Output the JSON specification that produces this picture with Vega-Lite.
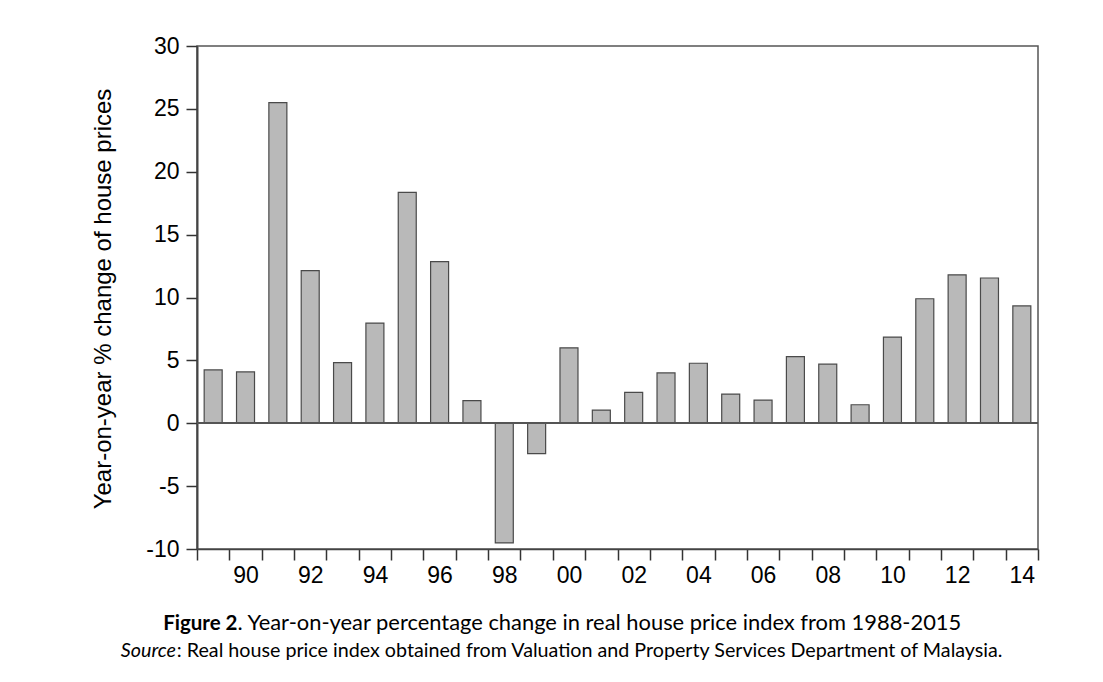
{
  "$schema": "https://vega.github.io/schema/vega-lite/v6.json",
  "width": 841,
  "height": 503,
  "autosize": {"type": "none"},
  "padding": {"left": 197, "top": 46, "right": 65, "bottom": 133},
  "background": "white",
  "config": {
    "view": {"stroke": "#555555", "strokeWidth": 1.5},
    "axis": {"grid": false}
  },
  "title": {
    "text": "Source",
    "orient": "top",
    "frame": "group",
    "anchor": "start",
    "align": "right",
    "baseline": "alphabetic",
    "dx": -21,
    "dy": 642,
    "offset": 0,
    "font": "Lato",
    "fontSize": 19.7,
    "fontStyle": "italic",
    "fontWeight": "normal",
    "color": "black"
  },
  "data": {
    "values": [
      {"year": 1989, "value": 4.24},
      {"year": 1990, "value": 4.08},
      {"year": 1991, "value": 25.5},
      {"year": 1992, "value": 12.13},
      {"year": 1993, "value": 4.82},
      {"year": 1994, "value": 7.97},
      {"year": 1995, "value": 18.36},
      {"year": 1996, "value": 12.85},
      {"year": 1997, "value": 1.8},
      {"year": 1998, "value": -9.52},
      {"year": 1999, "value": -2.42},
      {"year": 2000, "value": 6.0},
      {"year": 2001, "value": 1.05},
      {"year": 2002, "value": 2.45},
      {"year": 2003, "value": 4.0},
      {"year": 2004, "value": 4.77},
      {"year": 2005, "value": 2.32},
      {"year": 2006, "value": 1.84},
      {"year": 2007, "value": 5.3},
      {"year": 2008, "value": 4.7},
      {"year": 2009, "value": 1.47},
      {"year": 2010, "value": 6.85},
      {"year": 2011, "value": 9.9},
      {"year": 2012, "value": 11.8},
      {"year": 2013, "value": 11.55},
      {"year": 2014, "value": 9.33}
    ]
  },
  "resolve": {"axis": {"x": "independent", "y": "independent"}},
  "layer": [
    {
      "mark": {"type": "bar", "width": 18, "fill": "#b9b9b9", "stroke": "#4a4a4a", "strokeWidth": 1.2},
      "encoding": {
        "x": {
          "field": "year",
          "type": "quantitative",
          "scale": {"domain": [1988.5, 2014.5], "nice": false, "zero": false, "padding": 0},
          "axis": {
            "orient": "bottom",
            "values": [1988.5, 1989.5, 1990.5, 1991.5, 1992.5, 1993.5, 1994.5, 1995.5, 1996.5, 1997.5, 1998.5, 1999.5, 2000.5, 2001.5, 2002.5, 2003.5, 2004.5, 2005.5, 2006.5, 2007.5, 2008.5, 2009.5, 2010.5, 2011.5, 2012.5, 2013.5, 2014.5],
            "labelExpr": "(datum.value + 0.5) % 2 == 0 ? substring(toString(datum.value + 0.5), 2) : ''",
            "labelOffset": 16.2,
            "labelFlush": false,
            "labelOverlap": false,
            "labelBound": false,
            "labelFont": "Liberation Sans",
            "labelFontSize": 23,
            "labelColor": "black",
            "labelPadding": 4,
            "tickSize": 11,
            "tickColor": "#333333",
            "tickWidth": 1.5,
            "domain": true,
            "domainColor": "#444444",
            "domainWidth": 1.5,
            "grid": false,
            "title": "Figure 2",
            "titleX": 40,
            "titleY": 80.3,
            "titleAlign": "right",
            "titleBaseline": "alphabetic",
            "titleFont": "Lato",
            "titleFontSize": 20.5,
            "titleFontWeight": "bold",
            "titleColor": "black"
          }
        },
        "y": {
          "field": "value",
          "type": "quantitative",
          "scale": {"domain": [-10, 30], "nice": false},
          "axis": {
            "orient": "left",
            "values": [-10, -5, 0, 5, 10, 15, 20, 25, 30],
            "labelExpr": "toString(datum.value)",
            "labelFont": "Liberation Sans",
            "labelFontSize": 23,
            "labelColor": "black",
            "labelPadding": 7,
            "tickSize": 11,
            "tickColor": "#333333",
            "tickWidth": 1.5,
            "domain": true,
            "domainColor": "#444444",
            "domainWidth": 2,
            "grid": false,
            "title": "Year-on-year % change of house prices",
            "titleAngle": 270,
            "titleX": -86.3,
            "titleY": 252.5,
            "titleAlign": "center",
            "titleBaseline": "alphabetic",
            "titleFont": "Liberation Sans",
            "titleFontSize": 24,
            "titleFontWeight": "normal",
            "titleColor": "black"
          }
        }
      }
    },
    {
      "mark": {"type": "point", "opacity": 0},
      "encoding": {
        "x": {
          "field": "year",
          "type": "quantitative",
          "axis": {
            "orient": "top",
            "domain": false,
            "ticks": false,
            "labels": false,
            "grid": false,
            "title": ". Year-on-year percentage change in real house price index from 1988-2015",
            "titleX": 40,
            "titleY": 583.3,
            "titleAlign": "left",
            "titleBaseline": "alphabetic",
            "titleFont": "Lato",
            "titleFontSize": 21.9,
            "titleFontWeight": "normal",
            "titleColor": "black"
          }
        },
        "y": {
          "field": "value",
          "type": "quantitative",
          "axis": {
            "orient": "right",
            "domain": false,
            "ticks": false,
            "labels": false,
            "grid": false,
            "title": ": Real house price index obtained from Valuation and Property Services Department of Malaysia.",
            "titleAngle": 0,
            "titleX": -861.7,
            "titleY": 610.7,
            "titleAlign": "left",
            "titleBaseline": "alphabetic",
            "titleFont": "Lato",
            "titleFontSize": 19.7,
            "titleFontWeight": "normal",
            "titleColor": "black"
          }
        }
      }
    },
    {
      "mark": {"type": "rule", "color": "#555555", "strokeWidth": 1.5},
      "encoding": {
        "y": {"datum": 0, "type": "quantitative", "axis": null}
      }
    }
  ]
}
